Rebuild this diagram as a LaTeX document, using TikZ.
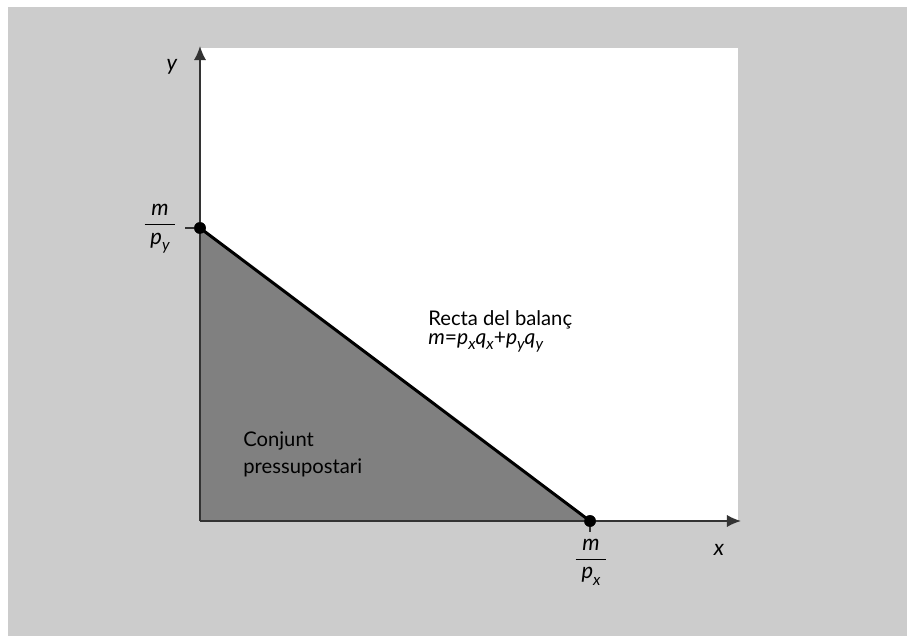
\documentclass[tikz,border=0pt]{standalone}
\usepackage{fontspec}
\setmainfont{Lato}
\usetikzlibrary{arrows.meta}
\definecolor{bggray}{HTML}{CCCCCC}
\definecolor{setgray}{HTML}{808080}
\definecolor{axisgray}{HTML}{333333}
\newcommand\lowsub[1]{\raisebox{-0.28em}{\fontsize{9}{9}\selectfont\itshape #1}}
\newcommand\budgetfrac[1]{$\displaystyle\frac{\;\textit{m}\;}{\;\textit{p}\lowsub{#1}\;}$}
\tikzset{
  axis/.style={draw=axisgray,line width=1.1pt,-{Latex[length=8pt,width=7pt]}},
  dot/.style={circle,fill=black,inner sep=0pt,minimum size=6.6pt},
  lbl/.style={anchor=base west,inner sep=0pt},
  tick/.style={draw=axisgray,line width=0.9pt}
}
\begin{document}
\begin{tikzpicture}[x=0.02cm,y=-0.02cm,font=\fontsize{11.5}{13}\selectfont]
  \useasboundingbox (0,0) rectangle (907,636);
  \fill[white] (0,0) rectangle (907,636);
  \fill[bggray] (8,7) rectangle (907,636);
  \fill[white] (200,48) rectangle (738,521);
  % budget set and budget line
  \coordinate (O) at (200,521);
  \coordinate (ytop) at (200,46);
  \coordinate (xend) at (741,521);
  \coordinate (ytick) at (185,228);
  \coordinate (xtick) at (590,532);
  \node[dot] (A) at (200,228) {};
  \node[dot] (B) at (590,521) {};
  \fill[setgray] (O) -- (A.center) -- (B.center) -- cycle;
  \draw[line width=1.7pt] (A.center) -- (B.center);
  \draw[axis] (O) -- (ytop);
  \draw[axis] (O) -- (xend);
  \draw[tick] (ytick) -- (A.center);
  \draw[tick] (B.center) -- (xtick);
  \node[dot] at (A) {};
  \node[dot] at (B) {};
  % labels
  \node[font=\fontsize{12.5}{14}\selectfont] (ylab) at (172,67) {\itshape y};
  \node[font=\fontsize{12.5}{14}\selectfont] (xlab) at (719,550) {\itshape x};
  \node[font=\fontsize{12.5}{14}\selectfont,inner sep=0pt] (mpy) at (160,229) {\budgetfrac{y}};
  \node[font=\fontsize{12.5}{14}\selectfont,inner sep=0pt] (mpx) at (591,562) {\budgetfrac{x}};
  \node[lbl] (recta) at (428,325) {Recta del balanç};
  \node[lbl,font=\fontsize{12}{14}\selectfont] (eq) at (428,344) {\itshape m\upshape=\itshape p\lowsub{x}q\lowsub{x}\upshape+\itshape p\lowsub{y}q\lowsub{y}};
  \node[lbl] (conj) at (243,446) {Conjunt};
  \node[lbl] (press) at (243,473) {pressupostari};
\end{tikzpicture}
\end{document}
